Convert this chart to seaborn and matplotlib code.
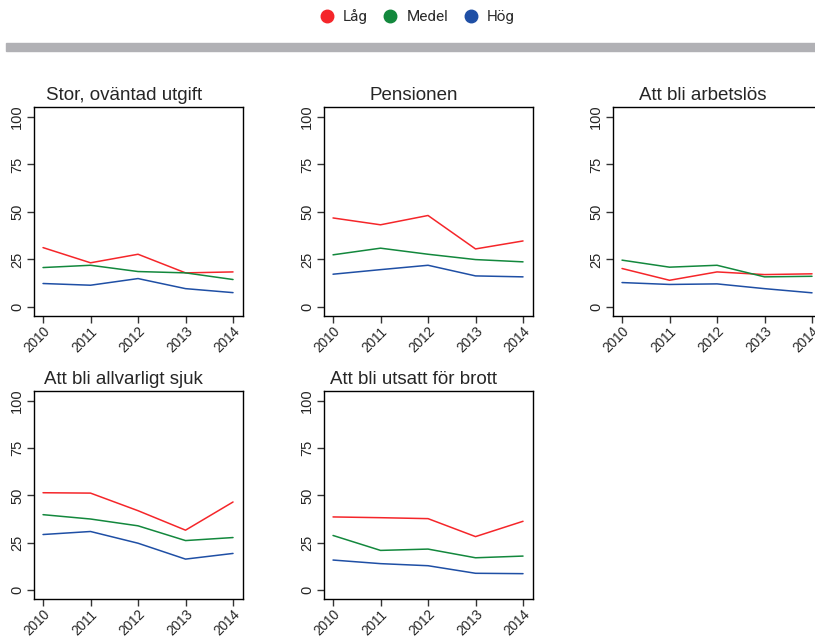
import matplotlib
matplotlib.use("Agg")
import matplotlib.pyplot as plt
from matplotlib.patches import Rectangle
from matplotlib.lines import Line2D
import seaborn as sns
import pandas as pd

# Data
years = [2010, 2011, 2012, 2013, 2014]
groups = ["Låg", "Medel", "Hög"]
titles = ["Stor, oväntad utgift", "Pensionen", "Att bli arbetslös",
          "Att bli allvarligt sjuk", "Att bli utsatt för brott"]

lag = [
    [31.2, 23.2, 27.7, 17.9, 18.4],
    [46.8, 43.2, 48.1, 30.5, 34.7],
    [20.2, 14.0, 18.4, 17.0, 17.4],
    [51.4, 51.2, 41.9, 31.6, 46.5],
    [38.6, 38.2, 37.7, 28.2, 36.3],
]
medel = [
    [20.7, 21.9, 18.6, 17.9, 14.4],
    [27.4, 30.9, 27.7, 24.9, 23.7],
    [24.6, 20.9, 21.9, 15.8, 16.1],
    [39.8, 37.5, 33.9, 26.1, 27.7],
    [28.8, 20.9, 21.6, 17.0, 17.9],
]
hog = [
    [12.3, 11.4, 14.9, 9.6, 7.5],
    [17.2, 19.6, 21.9, 16.3, 15.8],
    [12.8, 11.8, 12.1, 9.6, 7.4],
    [29.3, 30.9, 24.7, 16.3, 19.3],
    [15.8, 13.9, 12.8, 8.8, 8.6],
]

colors = {"Låg": "#f5262a", "Medel": "#13883d", "Hög": "#1f4fa5"}

rows = []
for i, t in enumerate(titles):
    for g, vals in zip(groups, [lag, medel, hog]):
        for y, v in zip(years, vals[i]):
            rows.append({"panel": t, "group": g, "year": y, "value": v})
df = pd.DataFrame(rows)

sns.set_style("ticks")
plt.rcParams["font.family"] = ["Liberation Sans", "DejaVu Sans"]

W, H = 815, 638
fig = plt.figure(figsize=(W / 100, H / 100), dpi=100)

# header legend + grey separator
fig.patches.append(Rectangle((6 / W, 1 - 50.7 / H), 809 / W, 7.4 / H,
                             transform=fig.transFigure, color="#b1b1b5", zorder=0))
handles = [Line2D([], [], marker="o", ls="", color=colors[g], markersize=9) for g in groups]
fig.legend(handles, groups, loc="center", bbox_to_anchor=(0.507, 1 - 17 / H), ncol=3,
           frameon=False, handletextpad=0.05, columnspacing=0.5,
           prop={"family": "Roboto", "size": 11}, labelcolor="#2b2b2b")

# axes positions in pixels: (left, top, width, height)
boxes = [(34, 107, 209, 209), (324, 107, 209, 209), (613, 107, 209, 209),
         (34, 391, 209, 208), (324, 391, 209, 208)]

for t, (l, tp, w, h) in zip(titles, boxes):
    ax = fig.add_axes([l / W, 1 - (tp + h) / H, w / W, h / H])
    sns.lineplot(data=df[df.panel == t], x="year", y="value", hue="group",
                 palette=colors, hue_order=groups, ax=ax, legend=False,
                 linewidth=1.1)
    ax.set_xlim(2009.81, 2014.21)
    ax.set_ylim(-4.8, 105.2)
    ax.set_xticks(years)
    ax.set_yticks([0, 25, 50, 75, 100])
    ax.set_xticklabels([str(y) for y in years], rotation=45, ha="right",
                       rotation_mode="anchor", fontsize=9.8)
    ax.set_yticklabels(["0", "25", "50", "75", "100"], rotation=90,
                       va="center", fontsize=10.5)
    ax.tick_params(axis="both", length=5, width=1, color="#333333")
    ax.tick_params(axis="x", pad=1)
    ax.tick_params(axis="y", pad=2)
    ax.set_xlabel("")
    ax.set_ylabel("")
    for s in ax.spines.values():
        s.set_visible(True)
        s.set_color("black")
        s.set_linewidth(1.0)
    ax.text(0.43, 1.035, t, transform=ax.transAxes, ha="center",
            va="baseline", fontsize=13.5)

fig.savefig("out.png", dpi=100)
